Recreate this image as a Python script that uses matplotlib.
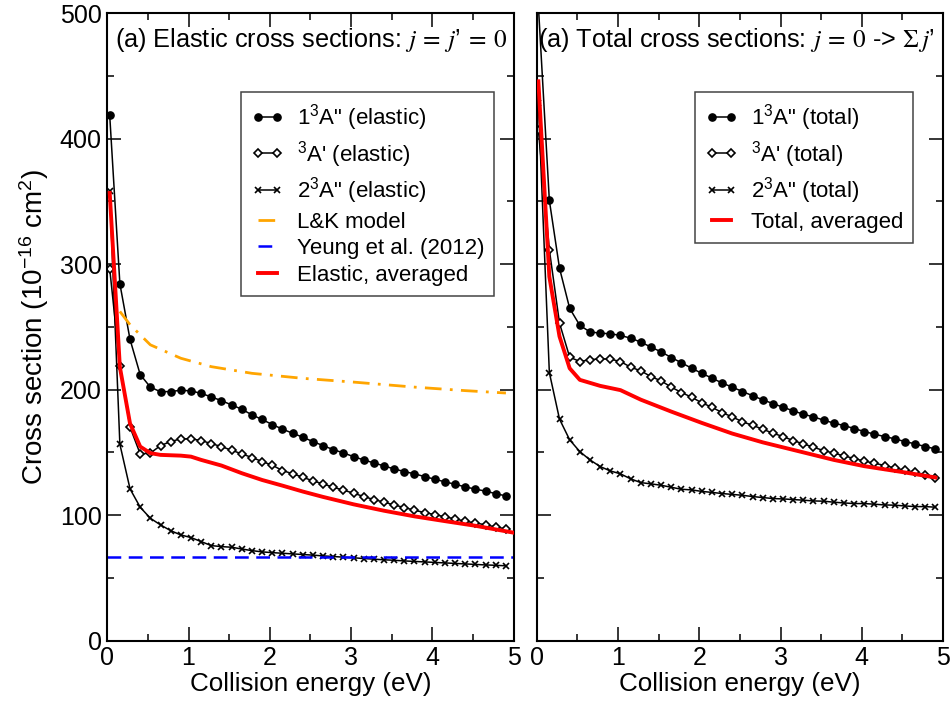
import matplotlib
matplotlib.use("Agg")
import matplotlib.pyplot as plt
from matplotlib.ticker import MultipleLocator

# collision energies (eV) of the computed points
energy = [0.03, 0.155, 0.28, 0.405, 0.53, 0.655, 0.78, 0.905, 1.03, 1.155,
          1.28, 1.405, 1.53, 1.655, 1.78, 1.905, 2.03, 2.155, 2.28, 2.405,
          2.53, 2.655, 2.78, 2.905, 3.03, 3.155, 3.28, 3.405, 3.53, 3.655,
          3.78, 3.905, 4.03, 4.155, 4.28, 4.405, 4.53, 4.655, 4.78, 4.905]
energy_tot = [0.02] + energy[1:]

# elastic cross sections j = j' = 0 (1e-16 cm^2)
el_1A2 = [418.6, 284.4, 240.0, 212.0, 202.0, 198.3, 198.5, 199.5, 199.0, 197.0,
          194.2, 191.2, 187.8, 184.4, 179.9, 176.2, 172.2, 168.5, 165.3, 162.1,
          158.6, 155.4, 152.2, 149.6, 146.6, 144.0, 141.6, 139.2, 136.8, 134.7,
          132.9, 130.7, 128.6, 126.5, 124.6, 122.5, 120.7, 119.1, 117.1, 115.3]
el_3A1 = [296.3, 219.0, 170.1, 148.8, 149.4, 155.4, 158.6, 160.8, 160.8, 159.4,
          157.0, 154.6, 151.7, 148.8, 145.9, 142.7, 139.8, 135.5, 133.0, 130.2,
          127.3, 124.9, 122.2, 119.9, 117.5, 114.8, 112.4, 110.3, 108.1, 106.0,
          103.9, 102.0, 100.4, 98.6, 97.0, 95.1, 93.8, 92.2, 90.6, 89.0]
el_2A2 = [358.0, 156.5, 120.9, 106.3, 97.5, 92.2, 87.6, 84.2, 82.1, 78.9,
          75.7, 74.9, 74.4, 73.0, 71.7, 70.7, 70.1, 69.6, 69.1, 68.6,
          68.1, 67.5, 67.0, 66.5, 66.0, 65.4, 64.9, 64.4, 64.0, 63.5,
          63.1, 62.7, 62.3, 61.9, 61.5, 61.1, 60.7, 60.3, 60.0, 59.6]

energy_avg_el = [0.03, 0.155, 0.28, 0.405, 0.53, 0.655, 0.905, 1.03, 1.155, 1.405,
                 1.655, 1.905, 2.155, 2.405, 2.655, 3.03, 3.405, 3.78, 4.155, 4.53, 5.0]
el_avg = [356.7, 218.0, 173.0, 154.6, 149.4, 148.0, 147.4, 146.6, 144.0, 139.5,
          133.4, 128.0, 123.5, 118.8, 114.5, 108.6, 103.5, 99.0, 95.2, 91.5, 86.0]

energy_lk = [0.155, 0.28, 0.53, 0.905, 1.28, 1.78, 2.405, 3.03, 3.78, 4.405, 4.905]
lk_model = [262.3, 251.7, 235.7, 225.0, 218.3, 213.0, 209.0, 206.0, 202.0, 199.2, 197.3]

energy_yeung = [0.0, 5.0]
yeung_2012 = [67.0, 67.0]

# total cross sections j = 0 -> sum j'
tot_1A2 = [506.0, 350.8, 296.8, 264.8, 251.2, 246.0, 245.0, 244.5, 243.2, 241.0,
           237.9, 233.9, 230.1, 225.6, 221.4, 217.1, 213.0, 209.2, 205.3, 202.0,
           198.5, 195.2, 191.9, 188.9, 186.0, 183.1, 180.4, 178.3, 175.7, 173.3,
           171.4, 169.0, 166.6, 164.5, 162.6, 160.8, 158.6, 156.8, 154.6, 152.8]
tot_3A1 = [407.0, 311.5, 253.0, 225.9, 222.4, 223.8, 224.6, 224.3, 222.4, 217.9,
           215.0, 210.4, 207.0, 202.0, 197.7, 194.0, 189.5, 186.0, 181.7, 178.3,
           174.4, 171.6, 168.5, 165.3, 162.6, 159.4, 156.8, 154.1, 151.4, 149.4,
           147.2, 145.1, 143.0, 141.4, 139.5, 137.6, 135.8, 134.2, 132.3, 129.9]
tot_2A2 = [428.5, 213.6, 176.5, 160.0, 150.6, 144.0, 138.7, 135.2, 132.9, 128.9,
           125.9, 124.9, 123.8, 122.2, 120.6, 120.1, 118.9, 118.1, 117.2, 116.5,
           115.8, 114.8, 114.0, 113.2, 112.9, 112.4, 111.9, 111.3, 111.1, 110.3,
           109.7, 109.2, 109.2, 108.7, 108.1, 107.9, 107.3, 106.8, 106.8, 106.3]

energy_avg_tot = [0.02, 0.155, 0.28, 0.405, 0.53, 0.78, 1.03, 1.28, 1.655, 2.03,
                  2.405, 2.78, 3.28, 3.655, 4.03, 4.53, 4.905]
tot_avg = [445.7, 290.0, 242.4, 217.0, 207.8, 203.0, 199.6, 192.0, 182.5, 173.5,
           165.0, 158.0, 150.0, 144.0, 139.0, 134.0, 130.0]

plt.rcParams['font.family'] = ['Liberation Sans', 'DejaVu Sans']
plt.rcParams['mathtext.fontset'] = 'custom'
plt.rcParams['mathtext.rm'] = 'Liberation Sans'
plt.rcParams['mathtext.it'] = 'Liberation Sans:italic'
plt.rcParams['mathtext.bf'] = 'Liberation Sans:bold'

fig = plt.figure(figsize=(9.51, 7.08), dpi=100)
ax1 = fig.add_axes([0.1128, 0.0952, 0.4273, 0.8862])
ax2 = fig.add_axes([0.5644, 0.0952, 0.4273, 0.8862])

line_kw = dict(color='black', lw=1.1)

# left panel: elastic
ax1.plot(energy, el_1A2, marker='o', ms=5.2, mfc='black', mec='black',
         label='1$^3$A" (elastic)', **line_kw)
ax1.plot(energy, el_3A1, marker='D', ms=4.0, mfc='white', mec='black', mew=1.2,
         label="$^3$A' (elastic)", **line_kw)
ax1.plot(energy, el_2A2, marker='x', ms=4, mec='black', mew=1.2,
         label='2$^3$A" (elastic)', **line_kw)
ax1.plot(energy_lk, lk_model, color='orange', lw=2.0, dashes=(6, 3, 1, 3),
         label='L&K model')
ax1.plot(energy_yeung, yeung_2012, color='blue', lw=1.8, dashes=(5.5, 3),
         label='Yeung et al. (2012)')
ax1.plot(energy_avg_el, el_avg, color='red', lw=2.8, zorder=5,
         label='Elastic, averaged')

# right panel: total
ax2.plot(energy_tot, tot_1A2, marker='o', ms=5.2, mfc='black', mec='black',
         label='1$^3$A" (total)', **line_kw)
ax2.plot(energy_tot, tot_3A1, marker='D', ms=4.0, mfc='white', mec='black', mew=1.2,
         label="$^3$A' (total)", **line_kw)
ax2.plot(energy_tot, tot_2A2, marker='x', ms=4, mec='black', mew=1.2,
         label='2$^3$A" (total)', **line_kw)
ax2.plot(energy_avg_tot, tot_avg, color='red', lw=2.8, zorder=5,
         label='Total, averaged')

for ax in (ax1, ax2):
    ax.set_xlim(0, 5)
    ax.set_ylim(0, 500)
    ax.xaxis.set_major_locator(MultipleLocator(1))
    ax.xaxis.set_minor_locator(MultipleLocator(0.5))
    ax.yaxis.set_major_locator(MultipleLocator(100))
    ax.yaxis.set_minor_locator(MultipleLocator(50))
    ax.tick_params(which='both', direction='in', top=True, right=True, width=1.1)
    ax.tick_params(which='major', length=10, pad=4, labelsize=18)
    ax.tick_params(which='minor', length=5)
    for s in ax.spines.values():
        s.set_linewidth(1.5)
    ax.set_xlabel('Collision energy (eV)', fontsize=18.7, labelpad=1)

ax2.tick_params(labelleft=False)
ax1.set_ylabel('Cross section (10$^{-16}$ cm$^2$)', fontsize=20, labelpad=6)

ax1.text(0.019, 0.946, r"(a) Elastic cross sections: $j\:=\:j$’$\:=\:0$",
         transform=ax1.transAxes, fontsize=18.2, va='baseline',
         math_fontfamily='stix')
ax2.text(0.004, 0.946, r"(a) Total cross sections: $j\:=\:\mathit{0}$ -> $\Sigma\,j$’",
         transform=ax2.transAxes, fontsize=18.2, va='baseline',
         math_fontfamily='stix')

leg_kw = dict(loc='upper left', fontsize=16, frameon=True, fancybox=False,
              borderaxespad=0, borderpad=0.45, handlelength=1.45,
              handletextpad=0.6, labelspacing=0.25, framealpha=1, numpoints=2)
leg1 = ax1.legend(bbox_to_anchor=(0.329, 0.874), **leg_kw)
leg2 = ax2.legend(bbox_to_anchor=(0.39, 0.874), **leg_kw)
for leg in (leg1, leg2):
    leg.get_frame().set_edgecolor('#444444')
    leg.get_frame().set_linewidth(1.1)

fig.savefig('out.png', dpi=100)
